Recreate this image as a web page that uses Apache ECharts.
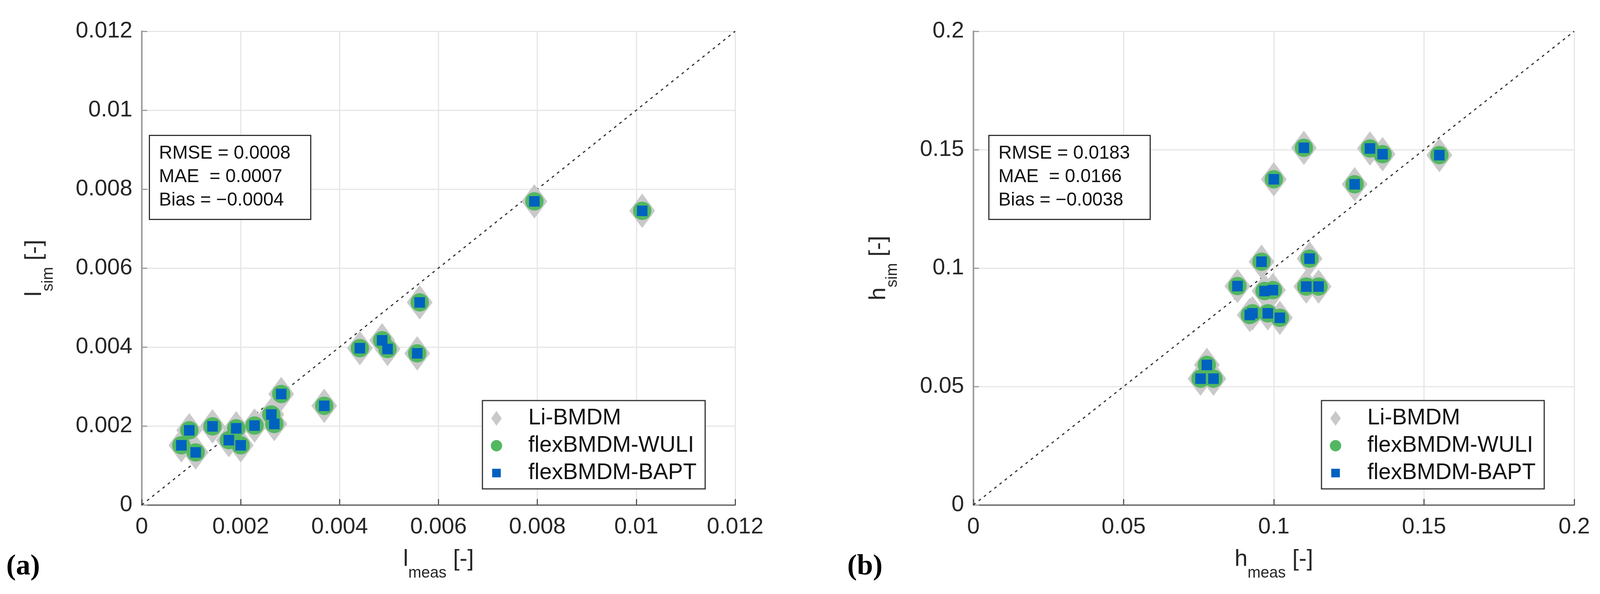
<!DOCTYPE html>
<html>
<head>
<meta charset="utf-8">
<script src="https://cdn.jsdelivr.net/npm/echarts@6/dist/echarts.min.js"></script>
<style>
html,body{margin:0;padding:0;background:#fff;overflow:hidden;}
#chart{width:100vw;height:100vh;}
</style>
</head>
<body>
<div id="chart"></div>
<script>
// ---- data ----
const seriesNames = ['Li-BMDM', 'flexBMDM-WULI', 'flexBMDM-BAPT'];

// panel (a): l_meas vs l_sim
const lMeas = [0.00080, 0.00096, 0.00109, 0.00143, 0.00176, 0.00191, 0.00200, 0.00228, 0.00268, 0.00262, 0.00282, 0.00369, 0.00441, 0.00497, 0.00486, 0.00557, 0.00562, 0.00794, 0.01012];
const lSim  = [0.00151, 0.00189, 0.00133, 0.00199, 0.00164, 0.00194, 0.00151, 0.00201, 0.00205, 0.00229, 0.00281, 0.00251, 0.00397, 0.00395, 0.00417, 0.00384, 0.00513, 0.00769, 0.00745];
const lRange = [0, 0.012, 0.002];          // min, max, tick step
const lDiag = [[0, 0], [0.012, 0.012]];    // 1:1 line
const lStats = ['RMSE = 0.0008', 'MAE  = 0.0007', 'Bias = \u22120.0004'];

// panel (b): h_meas vs h_sim
const hMeas = [0.1100, 0.1320, 0.1362, 0.1551, 0.1000, 0.1269, 0.0959, 0.1119, 0.0879, 0.0997, 0.0969, 0.1108, 0.1149, 0.0920, 0.0929, 0.0980, 0.1020, 0.0777, 0.0756, 0.0799];
const hSim  = [0.1508, 0.1505, 0.1481, 0.1477, 0.1375, 0.1354, 0.1027, 0.1040, 0.0924, 0.0907, 0.0903, 0.0922, 0.0922, 0.0802, 0.0809, 0.0809, 0.0790, 0.0591, 0.0533, 0.0533];
const hRange = [0, 0.2, 0.05];
const hDiag = [[0, 0], [0.2, 0.2]];
const hStats = ['RMSE = 0.0183', 'MAE  = 0.0166', 'Bias = \u22120.0038'];

const panelTags = ['(a)', '(b)'];

// ---- layout: horizontal positions are given for a 4179 px wide page, scaled to the real viewport ----
const VW = window.innerWidth || 4179;
const SX = Math.min(1, VW / 4179);
const X = v => Math.round(v * SX);

// ---- styling ----
const FONT = "'Liberation Sans', Arial, Helvetica, sans-serif";
const SERIF = "'Liberation Serif', 'Times New Roman', serif";
const C_GRAY = '#c9c9c9', C_GREEN = '#53b761', C_BLUE = '#0062bf';

function pts(xs, ys) { return xs.map((x, i) => [x, ys[i]]); }

function nameRich() {
  return {
    a: { fontFamily: FONT, fontSize: 60, height: 60, lineHeight: 60, verticalAlign: 'top', color: '#262626' },
    b: { fontFamily: FONT, fontSize: 40, height: 132, lineHeight: 132, verticalAlign: 'top', color: '#262626' }
  };
}

function makeX(idx, range, main, nameGap) {
  return {
    type: 'value', gridIndex: idx, min: range[0], max: range[1], interval: range[2],
    name: '{a|' + main + '}{b|meas}{a| [-]}', nameLocation: 'middle', nameGap: nameGap,
    nameTextStyle: { rich: nameRich() },
    axisLine: { show: true, onZero: false, lineStyle: { color: '#555555', width: 3 } },
    axisTick: { show: true, inside: true, length: 15, lineStyle: { color: '#555555', width: 3 } },
    axisLabel: { fontFamily: FONT, fontSize: 58, lineHeight: 58, color: '#262626', margin: 28 },
    splitLine: { show: true, lineStyle: { color: '#e6e6e6', width: 3 } }
  };
}
function makeY(idx, range, main, nameGap) {
  return {
    type: 'value', gridIndex: idx, min: range[0], max: range[1], interval: range[2],
    name: '{a|' + main + '}{b|sim}{a| [-]}', nameLocation: 'middle', nameGap: nameGap,
    nameTextStyle: { rich: nameRich() },
    axisLine: { show: true, onZero: false, lineStyle: { color: '#9c9c9c', width: 4 } },
    axisTick: { show: true, inside: true, length: 14, lineStyle: { color: '#9c9c9c', width: 3 } },
    axisLabel: { fontFamily: FONT, fontSize: 58, color: '#262626', margin: 24 },
    splitLine: { show: true, lineStyle: { color: '#e6e6e6', width: 3 } }
  };
}

function panelSeries(idx, xs, ys, diag) {
  const d = pts(xs, ys);
  return [
    { type: 'line', xAxisIndex: idx, yAxisIndex: idx, data: diag, symbol: 'none', silent: true, z: 1,
      lineStyle: { color: '#333333', width: 3, type: [7, 10] } },
    { type: 'scatter', name: seriesNames[0], xAxisIndex: idx, yAxisIndex: idx, data: d, z: 2,
      symbol: 'diamond', symbolSize: [66, 88], itemStyle: { color: C_GRAY, opacity: 1 } },
    { type: 'scatter', name: seriesNames[1], xAxisIndex: idx, yAxisIndex: idx, data: d, z: 3,
      symbol: 'circle', symbolSize: 47, itemStyle: { color: C_GREEN, opacity: 1 } },
    { type: 'scatter', name: seriesNames[2], xAxisIndex: idx, yAxisIndex: idx, data: d, z: 4,
      symbol: 'rect', symbolSize: 27, itemStyle: { color: C_BLUE, opacity: 1 } }
  ];
}

function makeLegend(left) {
  return {
    orient: 'vertical', left: X(left), top: 1025,
    padding: [17, 22, 12, X(9)], itemGap: 13, itemWidth: X(156), itemHeight: 38,
    backgroundColor: '#ffffff', borderColor: '#333333', borderWidth: 3, borderRadius: 0,
    textStyle: { fontFamily: FONT, fontSize: 57, lineHeight: 57, color: '#111111' },
    selectedMode: false,
    data: [
      { name: seriesNames[0], icon: 'path://M0,-19L13.5,0L0,19L-13.5,0Z', itemStyle: { color: C_GRAY, borderWidth: 0 } },
      { name: seriesNames[1], icon: 'circle', itemStyle: { color: C_GREEN, borderColor: '#ffffff', borderWidth: 9 } },
      { name: seriesNames[2], icon: 'path://M0,0L22,0L22,22L0,22Z', itemStyle: { color: C_BLUE, borderColor: '#ffffff', borderWidth: 16 } }
    ]
  };
}

function makeStats(left, lines) {
  return {
    text: lines.join('\n'), left: X(left), top: 346,
    padding: [17, 52, 19, 25],
    backgroundColor: '#ffffff', borderColor: '#333333', borderWidth: 3,
    textStyle: { fontFamily: FONT, fontSize: 47.5, lineHeight: 60, fontWeight: 'normal', color: '#111111' }
  };
}

const chart = echarts.init(document.getElementById('chart'), null, { renderer: 'canvas' });
chart.setOption({
  animation: false,
  backgroundColor: '#ffffff',
  grid: [
    { left: X(370), top: 80, width: X(1920) - X(370), height: 1212, outerBoundsMode: 'none', containLabel: false },
    { left: X(2543), top: 80, width: X(4112) - X(2543), height: 1212, outerBoundsMode: 'none', containLabel: false }
  ],
  xAxis: [ makeX(0, lRange, 'l', 109), makeX(1, hRange, 'h', 109) ],
  yAxis: [ makeY(0, lRange, 'l', 140), makeY(1, hRange, 'h', 108) ],
  title: [ makeStats(390, lStats), makeStats(2582, hStats) ],
  legend: [ makeLegend(1260), makeLegend(3452) ],
  series: [].concat(panelSeries(0, lMeas, lSim, lDiag), panelSeries(1, hMeas, hSim, hDiag)),
  graphic: [
    { type: 'text', left: X(16), top: 1414, style: { text: panelTags[0], font: 'bold 74px ' + SERIF, fill: '#000' } },
    { type: 'text', left: X(2213), top: 1414, style: { text: panelTags[1], font: 'bold 74px ' + SERIF, fill: '#000' } }
  ]
});
</script>
</body>
</html>
